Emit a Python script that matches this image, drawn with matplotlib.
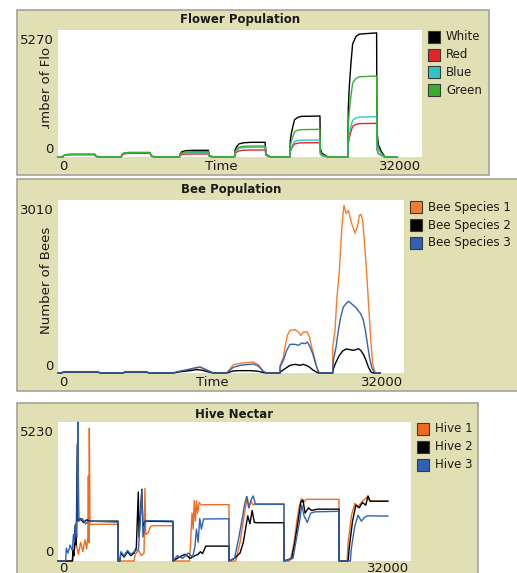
import matplotlib
matplotlib.use('Agg')
import matplotlib.pyplot as plt
from matplotlib.patches import Rectangle
from matplotlib.transforms import Bbox, TransformedBbox

# ---------------- data ----------------
flower_t = [0, 430, 470, 700, 1200, 3250, 3350, 3700,
            5560, 5600, 5800, 6200, 8090, 8200, 8550,
            10680, 10720, 10900, 11300, 11900, 13210, 13300, 13650,
            15520, 15560, 15700, 15900, 16300, 17000, 18200, 18300, 18650,
            20380, 20420, 20510, 20650, 20800, 21100, 21400, 23030, 23060, 23180, 23470, 23760,
            25480, 25520, 25610, 25750, 25900, 26190, 26490, 28010, 28040, 28160, 28450, 28750, 29800]
white = [0, 0, 50, 95, 105, 105, 25, 0,
         0, 80, 150, 170, 170, 40, 0,
         0, 120, 220, 265, 277, 277, 60, 0,
         0, 280, 420, 540, 590, 609, 609, 120, 0,
         0, 665, 970, 1275, 1550, 1650, 1685, 1701, 360, 170, 70, 0,
         0, 2010, 2935, 3860, 4690, 5000, 5100, 5150, 1080, 515, 205, 0, 0]
red = [0, 0, 45, 90, 100, 100, 25, 0,
       0, 60, 130, 150, 150, 35, 0,
       0, 55, 100, 120, 124, 124, 25, 0,
       0, 130, 200, 255, 280, 290, 290, 60, 0,
       0, 230, 340, 445, 540, 575, 588, 594, 125, 60, 25, 0,
       0, 545, 795, 1050, 1270, 1355, 1385, 1397, 295, 140, 55, 0, 0]
blue = [0, 0, 50, 100, 108, 108, 25, 0,
        0, 90, 170, 190, 190, 45, 0,
        0, 85, 155, 185, 194, 194, 40, 0,
        0, 185, 275, 355, 390, 401, 401, 80, 0,
        0, 275, 400, 530, 640, 685, 698, 705, 150, 70, 30, 0,
        0, 650, 955, 1255, 1520, 1620, 1655, 1673, 350, 165, 65, 0, 0]
green = [0, 0, 55, 100, 110, 110, 28, 0,
         0, 85, 165, 185, 185, 45, 0,
         0, 95, 175, 210, 221, 221, 45, 0,
         0, 210, 315, 405, 445, 456, 456, 95, 0,
         0, 450, 655, 860, 1045, 1115, 1135, 1148, 240, 115, 45, 0,
         0, 1310, 1915, 2520, 3060, 3260, 3330, 3361, 705, 335, 135, 0, 0]
flower_names = ['White', 'Red', 'Blue', 'Green']
flower_colors = ['#000000', '#e0262a', '#2cc6c8', '#38ae2f']

bee1_t = [0, 350, 500, 3700, 3900, 6000, 6200, 8200, 8400,
          10650, 11000, 12000, 12800, 13150, 13700, 14370,
          15600, 16222, 16838, 17450, 18072, 18535, 18997, 19307,
          20530, 20540, 20843, 20997, 21213, 21460, 21922, 22231, 22446, 22693, 23063, 23248, 23464, 23711, 23927, 24173,
          25406, 25410, 25622, 25776, 26023, 26177, 26331, 26454, 26639, 26855, 27163, 27472, 27687, 27872, 28027,
          28181, 28304, 28489, 28643, 28797, 28951, 29106, 29321, 29800]
bee1 = [0, 0, 25, 25, 0, 0, 25, 25, 0,
        0, 20, 50, 85, 100, 60, 0,
        0, 145, 168, 180, 191, 145, 29, 0,
        0, 133, 278, 452, 655, 742, 754, 713, 655, 713, 713, 626, 452, 278, 104, 0,
        0, 452, 742, 1264, 1786, 2308, 2714, 2917, 2772, 2830, 2598, 2436, 2540, 2743, 2761,
        2656, 2366, 1902, 1438, 974, 510, 162, 0, 0]
bee2_t = [0, 350, 500, 3700, 3900, 6000, 6200, 8200, 8400,
          10650, 11200, 12200, 12800, 13300, 14000, 14370,
          15600, 16200, 16800, 17800, 18500, 19000, 19300,
          20535, 20540, 20997, 21460, 21922, 22385, 22693, 23156, 23619, 24081,
          25406, 25468, 25714, 26023, 26331, 26639, 27009, 27318, 27564, 27780, 27996, 28243, 28489, 28705, 28951, 29167, 29800]
bee2 = [0, 0, 15, 15, 0, 0, 15, 15, 0,
        0, 20, 40, 58, 50, 15, 0,
        0, 35, 41, 41, 30, 8, 0,
        0, 17, 75, 133, 151, 133, 151, 116, 46, 0,
        0, 75, 191, 307, 383, 418, 406, 394, 406, 423, 394, 325, 220, 104, 17, 0, 0]
bee3_t = [0, 350, 500, 3700, 3900, 6000, 6200, 8200, 8400,
          10650, 11100, 12000, 12800, 13150, 13700, 14370,
          15600, 16222, 16838, 17450, 18072, 18535, 18997, 19307,
          20530, 20535, 20843, 21152, 21460, 21922, 22231, 22539, 22847, 23063, 23310, 23557, 23773, 24081, 24235,
          25400, 25406, 25468, 25714, 25930, 26146, 26393, 26639, 26855, 27071, 27318, 27564, 27780, 27996,
          28243, 28428, 28613, 28797, 29013, 29229, 29476, 29800]
bee3 = [0, 0, 20, 20, 0, 0, 20, 20, 0,
        0, 25, 60, 95, 104, 55, 0,
        0, 100, 133, 145, 157, 120, 25, 0,
        0, 104, 220, 394, 499, 499, 481, 522, 510, 539, 452, 336, 191, 17, 0,
        0, 46, 220, 452, 742, 974, 1148, 1206, 1247, 1218, 1177, 1137, 1079, 1032,
        916, 742, 510, 278, 104, 17, 0, 0]
bee_names = ['Bee Species 1', 'Bee Species 2', 'Bee Species 3']
bee_colors = ['#f47d2c', '#000000', '#2f62b5']

hive1_t = [0, 1350, 1400, 1650, 1850, 2050, 2250, 2450, 2600, 2700, 2750, 2800, 2840, 2900, 5440, 5445,
           6900, 7000, 7300, 7550, 7800, 7880, 7950, 8150, 8400, 8600, 10425, 10430,
           11900, 12000, 12150, 12250, 12350, 12450, 12550, 12650, 12800, 13000, 13300, 15500, 15505,
           16100, 16200, 16500, 16750, 16950, 17163, 17300, 17500, 17700, 17858, 20487, 20490,
           21000, 21100, 21400, 21650, 21850, 22050, 22250, 22500, 25473, 25476,
           26200, 26300, 26600, 26900, 27200, 27600, 28000, 28300, 29900]
hive1 = [0, 0, 300, 650, 250, 700, 350, 800, 450, 900, 3200, 700, 5000, 1380, 1380, 0,
         0, 250, 400, 200, 300, 2730, 1000, 1050, 1300, 1330, 1330, 0,
         0, 500, 1800, 1200, 2280, 1500, 2250, 1800, 2200, 2100, 2120, 2120, 0,
         0, 150, 700, 1400, 1900, 2410, 2000, 2250, 2100, 2158, 2158, 0,
         0, 100, 700, 1500, 2000, 2345, 2200, 2320, 2320, 0,
         0, 700, 1700, 2170, 2050, 2250, 2400, 2250, 2250]
hive2_t = [0, 1300, 1350, 1450, 1550, 1650, 1750, 1800, 2000, 2300, 2600, 2900, 5440, 5445,
           5600, 5700, 6000, 6300, 6600, 6900, 7100, 7280, 7350, 7600, 7700, 7900, 10425, 10430,
           11000, 11500, 12000, 12400, 12700, 12900, 13100, 13400, 15500, 15505,
           16000, 16500, 16800, 17000, 17200, 17400, 17600, 17800, 18100, 20487, 20490,
           21200, 21500, 21800, 22000, 22200, 22400, 22700, 23000, 23500, 25473, 25476,
           26300, 26400, 26700, 27000, 27300, 27600, 27900, 28100, 28300, 29900]
hive2 = [0, 0, 400, 200, 1340, 600, 4400, 1500, 1600, 1450, 1550, 1500, 1500, 0,
         0, 300, 150, 350, 200, 300, 500, 2600, 900, 2700, 1300, 1500, 1480, 0,
         150, 250, 100, 200, 250, 350, 280, 560, 560, 0,
         100, 300, 700, 1200, 1700, 1400, 1900, 1450, 1440, 1440, 0,
         100, 800, 1600, 2200, 2300, 1800, 2000, 1900, 1950, 1950, 0,
         0, 500, 1500, 2100, 2000, 2200, 2100, 2450, 2250, 2250]
hive3_t = [0, 700, 750, 900, 1100, 1300, 1400, 1500, 1600, 1700, 1800, 1850, 1900, 2200, 2500, 2800, 5440, 5445,
           5600, 5700, 6000, 6300, 6600, 6900, 7300, 7600, 7700, 7900, 8200, 10425, 10430,
           10800, 11300, 11800, 12200, 12400, 12550, 12700, 12850, 13000, 13200, 15500, 15505,
           16000, 16400, 16700, 16900, 17100, 17300, 17500, 17700, 17900, 20487, 20490,
           21300, 21600, 21900, 22100, 22300, 22600, 22900, 23300, 25473, 25476,
           26500, 26600, 26900, 27200, 27500, 27800, 28100, 29900]
hive3 = [0, 0, 480, 300, 600, 400, 1000, 700, 1400, 900, 5230, 3000, 1500, 1600, 1400, 1500, 1460, 0,
         0, 350, 200, 400, 250, 350, 450, 2650, 900, 1500, 1520, 1505, 0,
         200, 100, 300, 150, 500, 1200, 700, 1600, 1200, 1580, 1590, 0,
         100, 900, 1600, 2100, 2430, 2000, 2300, 2450, 2130, 2130, 0,
         100, 800, 1500, 2100, 1700, 1450, 1800, 1850, 1870, 0,
         0, 500, 1300, 1720, 1500, 1650, 1700, 1690]
hive_names = ['Hive 1', 'Hive 2', 'Hive 3']
hive_colors = ['#f26b1d', '#000000', '#2f62b5']

KHAKI = '#e1dfb4'
W, H = 517, 573

fig = plt.figure(figsize=(W / 100, H / 100), dpi=100)
fig.patch.set_facecolor('white')


def fx(x):
    return x / W


def fy(y):
    return 1 - y / H


def frame(x0, y0, x1, y1):
    fig.add_artist(Rectangle((fx(x0), fy(y1)), fx(x1) - fx(x0), fy(y0) - fy(y1),
                             transform=fig.transFigure, facecolor=KHAKI,
                             edgecolor='#a3a39a', lw=1.2, zorder=-5))


def panel(left, top, right, bottom, xmax, ymax):
    ax = fig.add_axes([fx(left), fy(bottom), fx(right) - fx(left), (bottom - top) / H])
    ax.set_facecolor('white')
    ax.set_xlim(0, xmax)
    ax.set_ylim(0, ymax)
    ax.set_xticks([])
    ax.set_yticks([])
    for s in ax.spines.values():
        s.set_visible(False)
    return ax


def label(x, y, s, **kw):
    kw.setdefault('fontsize', 9.5)
    kw.setdefault('color', '#1a1a1a')
    return fig.text(fx(x), fy(y), s, **kw)


def legend(xsq, xtxt, ys, names, colors):
    for y, n, c in zip(ys, names, colors):
        fig.add_artist(Rectangle((fx(xsq), fy(y + 6)), 12 / W, 12 / H,
                                 transform=fig.transFigure, facecolor=c,
                                 edgecolor='#3a3a3a', lw=0.8))
        label(xtxt, y, n, fontsize=8.5, ha='left', va='center')


# ---------------- Flower Population ----------------
frame(17, 10, 489, 175)
ax1 = panel(58, 30, 422, 157, 32000, 5270)
for v, c in zip([white, red, blue, green], flower_colors):
    ax1.plot(flower_t, v, color=c, lw=1.0, clip_on=False)
label(240, 20, 'Flower Population', fontsize=8.5, fontweight='bold', ha='center', va='center')
label(54, 41, '5270', ha='right', va='center')
label(54, 150, '0', ha='right', va='center')
label(59, 166, '0', ha='left', va='center')
label(421, 166, '32000', ha='right', va='center')
label(221, 166, 'Time', ha='center', va='center')
# the y label is cut by the space between the tick labels, as in the original
yl = label(47, 78, 'Number of Flowers', rotation=90, ha='center', va='center', clip_on=True)
yl.set_clip_box(TransformedBbox(Bbox.from_extents(fx(30), fy(129), fx(57), fy(47)), fig.transFigure))
legend(428, 446, [37, 55, 72, 90], flower_names, flower_colors)

# ---------------- Bee Population ----------------
frame(17, 179, 530, 391)
ax2 = panel(58, 200, 404, 373, 32000, 3010)
for t, v, c in zip([bee1_t, bee2_t, bee3_t], [bee1, bee2, bee3], bee_colors):
    ax2.plot(t, v, color=c, lw=1.0, clip_on=False)
label(231, 190, 'Bee Population', fontsize=8.5, fontweight='bold', ha='center', va='center')
label(54, 210, '3010', ha='right', va='center')
label(54, 367, '0', ha='right', va='center')
label(59, 382, '0', ha='left', va='center')
label(403, 382, '32000', ha='right', va='center')
label(212, 382, 'Time', ha='center', va='center')
label(46, 280, 'Number of Bees', rotation=90, ha='center', va='center')
legend(410, 428, [207, 225, 243], bee_names, bee_colors)

# ---------------- Hive Nectar ----------------
frame(17, 403, 478, 590)
ax3 = panel(58, 422, 411, 561, 32000, 5230)
for t, v, c in zip([hive1_t, hive2_t, hive3_t], [hive1, hive2, hive3], hive_colors):
    ax3.plot(t, v, color=c, lw=1.0, clip_on=False)
label(234, 414, 'Hive Nectar', fontsize=8.5, fontweight='bold', ha='center', va='center')
label(54, 433, '5230', ha='right', va='center')
label(54, 553, '0', ha='right', va='center')
label(59, 569, '0', ha='left', va='center')
label(409, 569, '32000', ha='right', va='center')
legend(417, 435, [429, 447, 465], hive_names, hive_colors)

fig.savefig('out.png', dpi=100, facecolor='white')
